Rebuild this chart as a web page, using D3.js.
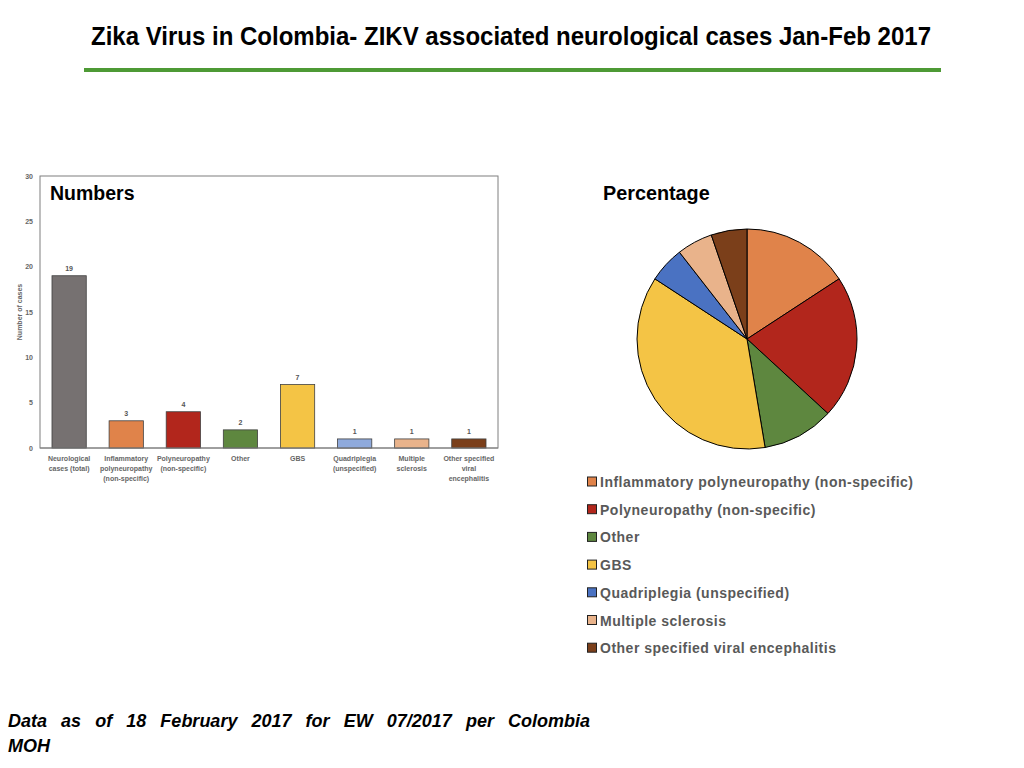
<!DOCTYPE html>
<html>
<head>
<meta charset="utf-8">
<script src="https://cdn.jsdelivr.net/npm/d3@7/dist/d3.min.js"></script>
<style>
  body { margin: 0; background: #fff; }
  svg { display: block; }
</style>
</head>
<body>
<div id="chart"></div>
<script>
// bar chart data
const barCategories = [
  ["Neurological", "cases (total)"],
  ["Inflammatory", "polyneuropathy", "(non-specific)"],
  ["Polyneuropathy", "(non-specific)"],
  ["Other"],
  ["GBS"],
  ["Quadriplegia", "(unspecified)"],
  ["Multiple", "sclerosis"],
  ["Other specified", "viral", "encephalitis"]
]
const barValues = [19, 3, 4, 2, 7, 1, 1, 1]
const barColors = ["#767171", "#E0834A", "#B2261C", "#5E873F", "#F4C445", "#8FAADC", "#E9B38B", "#7B3F1A"]
const yTicks = [0, 5, 10, 15, 20, 25, 30]

// pie data
const pieLabels = ["Inflammatory polyneuropathy (non-specific)", "Polyneuropathy (non-specific)", "Other", "GBS",
  "Quadriplegia (unspecified)", "Multiple sclerosis", "Other specified viral encephalitis"]
const pieValues = [3, 4, 2, 7, 1, 1, 1]
const pieColors = ["#E0834A", "#B2261C", "#5E873F", "#F4C445", "#4A72C2", "#E9B38B", "#7B3F1A"]

const svg = d3.select("#chart")
  .append("svg")
  .attr("width", 1024)
  .attr("height", 768)
  .style("font-family", "'Liberation Sans', Arial, sans-serif")

// title + green rule
svg.append("text")
  .attr("x", 511)
  .attr("y", 45)
  .attr("text-anchor", "middle")
  .attr("font-family", "'Liberation Sans Narrow', 'Liberation Sans', sans-serif")
  .attr("font-weight", "bold")
  .attr("font-size", 25)
  .attr("textLength", 840)
  .attr("lengthAdjust", "spacingAndGlyphs")
  .text("Zika Virus in Colombia- ZIKV associated neurological cases Jan-Feb 2017")
svg.append("rect")
  .attr("x", 84).attr("y", 68)
  .attr("width", 857).attr("height", 4)
  .attr("fill", "#4E9A35")

// ---- bar chart ----
const plot = {left: 40, top: 176, right: 498, bottom: 448}

const x = d3.scaleBand()
  .domain(d3.range(barValues.length))
  .range([plot.left, plot.right])
  .paddingInner(0.4)
  .paddingOuter(0.21)
const y = d3.scaleLinear()
  .domain([0, 30])
  .range([plot.bottom, plot.top])

const bars = svg.append("g")

bars.append("rect")
  .attr("x", plot.left).attr("y", plot.top)
  .attr("width", plot.right - plot.left).attr("height", plot.bottom - plot.top)
  .attr("fill", "none")
  .attr("stroke", "#7f7f7f")
  .attr("stroke-width", 1)

const yAxis = bars.append("g")
  .attr("transform", `translate(${plot.left},0)`)
  .call(d3.axisLeft(y).tickValues(yTicks).tickSize(0).tickPadding(7))
yAxis.select(".domain").remove()
yAxis.selectAll("text")
  .attr("font-size", 7)
  .attr("font-weight", "bold")
  .attr("fill", "#666")
  .style("font-family", "'Liberation Sans', Arial, sans-serif")

bars.append("text")
  .attr("transform", `translate(22,${(plot.top + plot.bottom) / 2}) rotate(-90)`)
  .attr("text-anchor", "middle")
  .attr("font-size", 7)
  .attr("font-weight", "bold")
  .attr("fill", "#666")
  .text("Number of cases")

bars.selectAll(".bar")
  .data(barValues)
  .join("rect")
  .attr("class", "bar")
  .attr("x", (d, i) => x(i))
  .attr("width", x.bandwidth())
  .attr("y", d => y(d))
  .attr("height", d => y(0) - y(d))
  .attr("fill", (d, i) => barColors[i])
  .attr("stroke", "#404040")
  .attr("stroke-width", 0.8)

bars.selectAll(".val")
  .data(barValues)
  .join("text")
  .attr("class", "val")
  .attr("x", (d, i) => x(i) + x.bandwidth() / 2)
  .attr("y", d => y(d) - 5)
  .attr("text-anchor", "middle")
  .attr("font-size", 7)
  .attr("font-weight", "bold")
  .attr("fill", "#555")
  .text(d => d)

bars.append("line")
  .attr("x1", plot.left).attr("x2", plot.right)
  .attr("y1", plot.bottom).attr("y2", plot.bottom)
  .attr("stroke", "#7f7f7f")

const catLabels = bars.selectAll(".cat")
  .data(barCategories)
  .join("text")
  .attr("class", "cat")
  .attr("text-anchor", "middle")
  .attr("font-size", 7)
  .attr("font-weight", "bold")
  .attr("fill", "#666")
catLabels.selectAll("tspan")
  .data((d, i) => d.map(line => ({line, i})))
  .join("tspan")
  .attr("x", d => x(d.i) + x.bandwidth() / 2)
  .attr("y", (d, j) => 461 + j * 10)
  .text(d => d.line)

svg.append("text")
  .attr("x", 50).attr("y", 200)
  .attr("font-size", 19.5)
  .attr("font-weight", "bold")
  .text("Numbers")

// ---- pie ----
svg.append("text")
  .attr("x", 603).attr("y", 200)
  .attr("font-size", 19.8)
  .attr("font-weight", "bold")
  .text("Percentage")

const pie = d3.pie().sort(null)(pieValues)
const arc = d3.arc().innerRadius(0).outerRadius(110)

svg.append("g")
  .attr("transform", "translate(747,339)")
  .selectAll("path")
  .data(pie)
  .join("path")
  .attr("d", arc)
  .attr("fill", (d, i) => pieColors[i])
  .attr("stroke", "#000")
  .attr("stroke-width", 1)

const legend = svg.append("g")
  .selectAll("g")
  .data(pieLabels)
  .join("g")
  .attr("transform", (d, i) => `translate(587,${482 + i * 27.7})`)
legend.append("rect")
  .attr("x", 0.5).attr("y", -5)
  .attr("width", 9).attr("height", 9)
  .attr("fill", (d, i) => pieColors[i])
  .attr("stroke", "#222")
  .attr("stroke-width", 1)
legend.append("text")
  .attr("x", 13).attr("y", 5)
  .attr("font-size", 14)
  .attr("font-weight", "bold")
  .attr("fill", "#595959")
  .attr("letter-spacing", 0.5)
  .text(d => d)

// footer, justified by widening the word gaps
const foot = svg.append("text")
  .attr("font-size", 18)
  .attr("font-weight", "bold")
  .attr("font-style", "italic")
const line1 = foot.append("tspan")
  .attr("x", 8).attr("y", 727)
  .text("Data as of 18 February 2017 for EW 07/2017 per Colombia")
const natural = line1.node().getComputedTextLength()
const gaps = line1.text().split(" ").length - 1
line1.attr("word-spacing", (582 - natural) / gaps)
foot.append("tspan")
  .attr("x", 8).attr("y", 752)
  .text("MOH")
</script>
</body>
</html>
